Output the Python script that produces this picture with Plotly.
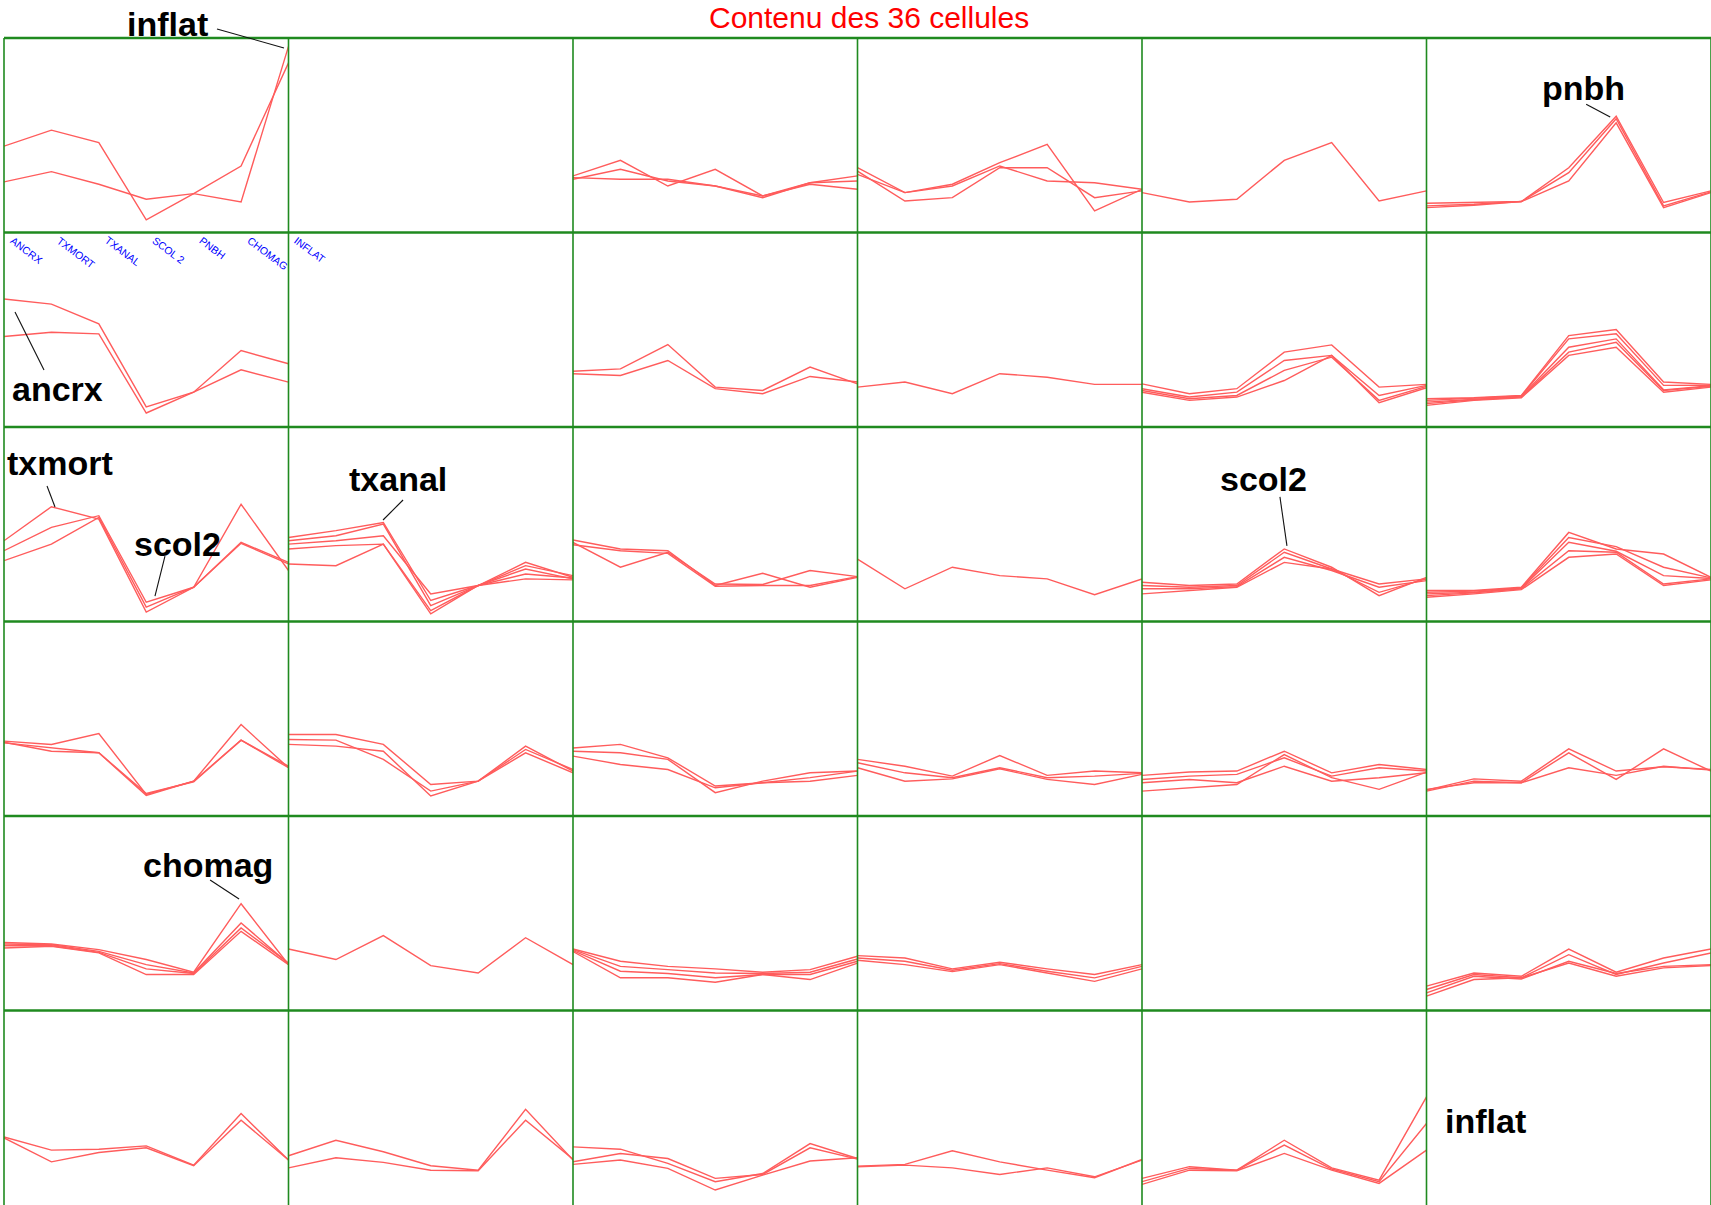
import plotly.graph_objects as go
from plotly.subplots import make_subplots

# Variables of each profile (x categories, shared by all cells)
VARIABLES = ["ANCRX", "TXMORT", "TXANAL", "SCOL 2", "PNBH", "CHOMAG", "INFLAT"]

# Profiles contained in each of the 36 cells (row, column), one list per member
C11 = [[4.44, 5.26, 4.62, 0.65, 2.00, 3.42, 8.72],
       [2.60, 3.13, 2.48, 1.71, 2.00, 1.57, 9.57]]
C12 = []
C13 = [[2.91, 3.71, 2.39, 3.25, 1.88, 2.56, 2.91],
       [2.74, 3.25, 2.65, 2.39, 1.79, 2.56, 2.65],
       [2.82, 2.74, 2.74, 2.39, 1.88, 2.48, 2.22]]
C14 = [[3.33, 2.05, 2.48, 3.59, 4.53, 1.11, 2.22],
       [3.16, 1.62, 1.79, 3.33, 3.33, 1.79, 2.14],
       [2.99, 2.05, 2.39, 3.42, 2.65, 2.56, 2.22]]
C15 = [[2.05, 1.57, 1.71, 3.71, 4.62, 1.62, 2.14]]
C16 = [[1.50, 1.54, 1.59, 3.33, 5.98, 1.54, 2.14],
       [1.37, 1.45, 1.59, 3.08, 5.85, 1.37, 2.09],
       [1.28, 1.40, 1.59, 2.65, 5.64, 1.28, 2.05]]

C21 = [[6.58, 6.32, 5.30, 1.03, 1.79, 3.93, 3.25],
       [4.65, 4.87, 4.79, 0.72, 1.79, 2.94, 2.31]]
C22 = []
C23 = [[2.87, 2.99, 4.24, 2.05, 1.88, 3.08, 2.22],
       [2.74, 2.65, 3.42, 1.97, 1.71, 2.60, 2.31]]
C24 = [[2.05, 2.31, 1.71, 2.74, 2.56, 2.19, 2.19]]
C25 = [[2.22, 1.71, 1.97, 3.85, 4.22, 2.05, 2.19],
       [1.97, 1.54, 1.79, 3.42, 3.68, 1.62, 2.14],
       [1.88, 1.45, 1.62, 2.91, 3.59, 1.37, 2.09],
       [1.79, 1.37, 1.54, 2.39, 3.68, 1.25, 2.02]]
C26 = [[1.45, 1.50, 1.62, 4.70, 5.01, 2.31, 2.19],
       [1.37, 1.47, 1.59, 4.53, 4.79, 2.14, 2.15],
       [1.28, 1.44, 1.57, 4.10, 4.53, 1.91, 2.12],
       [1.20, 1.40, 1.54, 3.85, 4.36, 1.88, 2.09],
       [1.11, 1.37, 1.50, 3.68, 4.10, 1.79, 2.05]]

C31 = [[4.15, 5.90, 5.26, 0.48, 1.76, 6.03, 2.62],
       [3.64, 4.84, 5.44, 0.99, 1.76, 4.07, 3.04],
       [3.13, 3.98, 5.35, 0.74, 1.76, 4.02, 2.96]]
C32 = [[4.32, 4.67, 5.09, 1.08, 1.85, 3.04, 2.27],
       [4.15, 4.41, 5.01, 0.82, 1.85, 2.87, 2.36],
       [3.98, 4.15, 4.41, 1.42, 1.85, 2.70, 2.19],
       [3.73, 3.90, 3.98, 0.39, 1.85, 2.44, 2.24],
       [2.96, 2.87, 3.98, 0.56, 1.85, 2.19, 2.14]]
C33 = [[4.19, 3.73, 3.64, 1.85, 2.48, 1.76, 2.27],
       [4.07, 2.79, 3.56, 1.93, 1.90, 2.62, 2.31],
       [3.95, 3.64, 3.50, 1.81, 1.85, 1.85, 2.31]]
C34 = [[3.21, 1.68, 2.79, 2.36, 2.19, 1.38, 2.19]]
C35 = [[2.02, 1.85, 1.93, 3.73, 2.79, 1.33, 2.27],
       [1.85, 1.76, 1.85, 3.56, 2.70, 1.50, 2.19],
       [1.68, 1.68, 1.79, 3.30, 2.62, 1.76, 2.10],
       [1.42, 1.59, 1.76, 3.04, 2.70, 1.93, 2.19]]
C36 = [[1.59, 1.59, 1.76, 4.58, 3.73, 3.47, 2.27],
       [1.50, 1.56, 1.73, 4.32, 3.85, 2.79, 2.24],
       [1.42, 1.50, 1.71, 4.07, 3.61, 2.36, 2.21],
       [1.33, 1.47, 1.68, 3.64, 3.56, 1.93, 2.19],
       [1.25, 1.42, 1.64, 3.30, 3.47, 1.85, 2.14]]

C41 = [[3.85, 3.68, 4.24, 1.11, 1.79, 4.70, 2.48],
       [3.76, 3.50, 3.25, 1.06, 1.79, 3.90, 2.48],
       [3.79, 3.33, 3.25, 1.16, 1.76, 3.90, 2.56]]
C42 = [[4.19, 4.19, 3.68, 1.62, 1.79, 3.59, 2.31],
       [3.93, 3.90, 2.91, 1.28, 1.79, 3.42, 2.39],
       [3.68, 3.59, 3.33, 1.03, 1.79, 3.25, 2.22]]
C43 = [[3.50, 3.68, 2.99, 1.54, 1.71, 1.97, 2.31],
       [3.33, 3.25, 2.91, 1.20, 1.79, 2.22, 2.31],
       [3.08, 2.65, 2.39, 1.45, 1.71, 1.79, 2.09]]
C44 = [[2.91, 2.56, 2.05, 3.11, 2.09, 2.31, 2.22],
       [2.74, 2.22, 1.97, 2.48, 1.97, 2.05, 2.19],
       [2.48, 1.79, 1.91, 2.43, 1.88, 1.62, 2.14]]
C45 = [[2.09, 2.26, 2.31, 3.33, 2.22, 2.65, 2.39],
       [1.88, 2.05, 2.14, 2.99, 2.05, 2.48, 2.31],
       [1.71, 1.88, 1.71, 2.56, 1.79, 1.97, 2.22],
       [1.28, 1.45, 1.62, 3.16, 1.97, 1.37, 2.26]]
C46 = [[1.33, 1.91, 1.79, 3.45, 2.31, 2.53, 2.39],
       [1.28, 1.79, 1.71, 3.25, 1.88, 3.45, 2.31],
       [1.37, 1.71, 1.71, 2.48, 2.09, 2.56, 2.36]]

C51 = [[3.50, 3.42, 3.13, 2.62, 1.97, 5.49, 2.36],
       [3.42, 3.38, 3.04, 2.36, 1.93, 4.50, 2.41],
       [3.33, 3.33, 2.99, 2.14, 1.90, 4.24, 2.44],
       [3.21, 3.30, 2.96, 1.85, 1.85, 4.07, 2.36]]
C52 = [[3.16, 2.62, 3.85, 2.31, 1.93, 3.74, 2.36]]
C53 = [[3.16, 2.53, 2.27, 2.14, 1.97, 2.10, 2.79],
       [3.13, 2.27, 2.10, 1.93, 1.90, 1.97, 2.65],
       [3.08, 2.02, 1.90, 1.68, 1.85, 1.85, 2.53],
       [3.03, 1.68, 1.68, 1.45, 1.85, 1.59, 2.44]]
C54 = [[2.82, 2.70, 2.14, 2.48, 2.14, 1.85, 2.36],
       [2.70, 2.53, 2.07, 2.41, 2.02, 1.68, 2.27],
       [2.58, 2.36, 2.00, 2.36, 1.93, 1.50, 2.14]]
C55 = []
C56 = [[1.25, 1.93, 1.76, 3.16, 1.97, 2.70, 3.16],
       [1.08, 1.85, 1.68, 2.87, 1.85, 2.44, 2.96],
       [0.91, 1.76, 1.62, 2.53, 1.90, 2.27, 2.36],
       [0.74, 1.59, 1.68, 2.44, 1.76, 2.19, 2.31]]

C61 = [[3.50, 2.82, 2.87, 3.04, 2.05, 4.70, 2.31],
       [3.45, 2.22, 2.70, 2.94, 2.02, 4.36, 2.31]]
C62 = [[2.53, 3.33, 2.74, 2.02, 1.79, 4.92, 2.31],
       [1.91, 2.43, 2.19, 1.79, 1.76, 4.36, 2.36]]
C63 = [[2.99, 2.87, 2.14, 1.20, 1.62, 3.16, 2.39],
       [2.22, 2.65, 2.39, 1.37, 1.57, 2.94, 2.36],
       [2.09, 2.31, 1.88, 0.77, 1.54, 2.26, 2.43]]
C64 = [[2.00, 2.09, 2.79, 2.22, 1.79, 1.40, 2.34],
       [1.97, 2.05, 1.91, 1.57, 1.91, 1.45, 2.31]]
C65 = [[1.37, 1.97, 1.79, 3.33, 1.91, 1.28, 5.56],
       [1.20, 1.88, 1.79, 3.08, 1.85, 1.20, 4.19],
       [1.06, 1.79, 1.76, 2.65, 1.79, 1.11, 2.82]]
C66 = []

CELLS = [
    [C11, C12, C13, C14, C15, C16],
    [C21, C22, C23, C24, C25, C26],
    [C31, C32, C33, C34, C35, C36],
    [C41, C42, C43, C44, C45, C46],
    [C51, C52, C53, C54, C55, C56],
    [C61, C62, C63, C64, C65, C66],
]

TITLE = "Contenu des 36 cellules"
Y_RANGE = [0, 10]

# Page geometry (pixels)
W, H = 1711, 1205
ML, MT, MR, MB = 4, 38, 0, 0
PW, PH = W - ML - MR, H - MT - MB
N_ROWS, N_COLS = len(CELLS), len(CELLS[0])
CELL_W, CELL_H = PW / N_COLS, PH / N_ROWS

PROFILE_COLOR = "#ff5c5c"
BORDER_COLOR = "#1f8a1f"
LABEL_FONT = "Liberation Sans, Arial, sans-serif"


def to_paper(px, py):
    return (px - ML) / PW, (H - MB - py) / PH


def point_px(r, c, i, v):
    x = ML + (c + i / (len(VARIABLES) - 1)) * CELL_W
    y = MT + (r + (Y_RANGE[1] - v) / (Y_RANGE[1] - Y_RANGE[0])) * CELL_H
    return x, y


fig = make_subplots(rows=N_ROWS, cols=N_COLS,
                    horizontal_spacing=0, vertical_spacing=0)

for r, row in enumerate(CELLS):
    for c, cell in enumerate(row):
        for profile in cell:
            fig.add_trace(
                go.Scatter(x=VARIABLES, y=profile, mode="lines",
                           line=dict(color=PROFILE_COLOR, width=1.4),
                           hoverinfo="skip", showlegend=False),
                row=r + 1, col=c + 1)

fig.update_xaxes(type="category", categoryorder="array",
                 categoryarray=VARIABLES, range=[0, len(VARIABLES) - 1],
                 visible=False, fixedrange=True)
fig.update_yaxes(range=Y_RANGE, visible=False, fixedrange=True)

# Cell borders
shapes = []
for k in range(N_COLS + 1):
    shapes.append(dict(type="line", xref="paper", yref="paper",
                       x0=k / N_COLS, x1=k / N_COLS, y0=0, y1=1,
                       line=dict(color=BORDER_COLOR, width=1.6)))
for k in range(1, N_ROWS + 1):
    shapes.append(dict(type="line", xref="paper", yref="paper",
                       x0=0, x1=1, y0=k / N_ROWS, y1=k / N_ROWS,
                       line=dict(color=BORDER_COLOR, width=2.6)))

# Leader lines from the callouts to the profile points they designate:
# (row, col, cell, profile index, variable index, text-side offset, point-side offset)
LEADERS = [
    (0, 0, C11, 1, 6, (-71.5, -17.4), (-4.5, 1.6)),
    (0, 5, C16, 0, 4, (-30.0, -12.0), (-6.0, 0.8)),
    (1, 0, C21, 0, 0, (40.0, 71.0), (11.0, 13.0)),
    (2, 0, C31, 0, 1, (-4.4, -20.7), (3.6, 0.3)),
    (2, 0, C31, 1, 3, (18.7, -46.2), (8.7, -6.2)),
    (2, 1, C32, 0, 2, (19.7, -22.5), (-0.3, -2.5)),
    (2, 4, C35, 0, 3, (-4.3, -52.0), (2.7, -3.0)),
    (4, 0, C51, 0, 5, (-31.0, -23.7), (-2.0, -4.7)),
]
for r, c, cell, p, i, start, end in LEADERS:
    px, py = point_px(r, c, i, cell[p][i])
    x0, y0 = to_paper(px + start[0], py + start[1])
    x1, y1 = to_paper(px + end[0], py + end[1])
    shapes.append(dict(type="line", xref="paper", yref="paper",
                       x0=x0, y0=y0, x1=x1, y1=y1,
                       line=dict(color="#111111", width=1.1)))

annotations = []

# Title
tx, ty = to_paper(869, 17.6)
annotations.append(dict(text=TITLE, x=tx, y=ty, xref="paper", yref="paper",
                        xanchor="center", yanchor="middle", showarrow=False,
                        font=dict(family="Liberation Sans, Arial, sans-serif",
                                  size=30, color="#ff0000")))

# Variable callouts (centre of each text box, pixels)
CALLOUTS = [("inflat", 167, 24.2), ("pnbh", 1583, 87.9), ("ancrx", 57.5, 389.2),
            ("txmort", 60, 463.2), ("scol2", 177.5, 544.2), ("txanal", 398, 479.2),
            ("scol2", 1263.5, 479.2), ("chomag", 207.5, 864.9),
            ("inflat", 1485.5, 1121.2)]
for text, cx, cy in CALLOUTS:
    ax, ay = to_paper(cx, cy)
    annotations.append(dict(text=text, x=ax, y=ay, xref="paper", yref="paper",
                            xanchor="center", yanchor="middle", showarrow=False,
                            font=dict(family=LABEL_FONT, size=34, color="#000000",
                                      weight="bold")))

# Slanted variable names along the top of the second row, first column
for i, name in enumerate(VARIABLES):
    px, py = point_px(1, 0, i, Y_RANGE[1])
    ax, ay = to_paper(px + 1, py - 1)
    annotations.append(dict(text=name, x=ax, y=ay, xref="paper", yref="paper",
                            xanchor="left", yanchor="top", showarrow=False,
                            textangle=37,
                            font=dict(family="Liberation Sans, Arial, sans-serif",
                                      size=10.5, color="#0000ff")))

fig.update_layout(
    width=W, height=H, autosize=False,
    margin=dict(l=ML, r=MR, t=MT, b=MB, pad=0),
    paper_bgcolor="#ffffff", plot_bgcolor="#ffffff",
    shapes=shapes, annotations=annotations,
    showlegend=False,
)

fig.write_html("out.html", include_plotlyjs=True,
               config={"displayModeBar": False, "staticPlot": True})
